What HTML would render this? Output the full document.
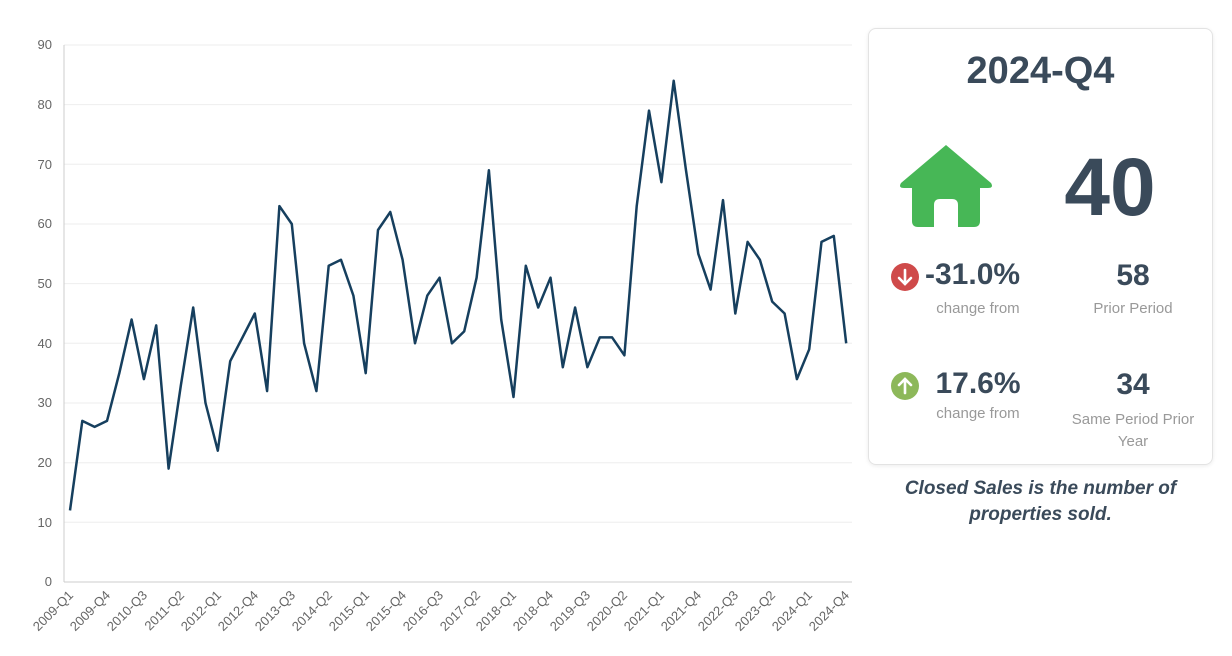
<!DOCTYPE html>
<html><head><meta charset="utf-8"><style>
body{margin:0;width:1232px;height:656px;background:#fff;font-family:"Liberation Sans",sans-serif;overflow:hidden;position:relative}
.panel{position:absolute;left:868px;top:28px;width:345px;height:437px;border:1px solid #e3e3e3;border-radius:8px;box-shadow:0 1px 4px rgba(0,0,0,.08);box-sizing:border-box}
.t{position:absolute;text-align:center;color:#3a4a5a;font-weight:bold}
.s{position:absolute;text-align:center;color:#999;font-size:15px}
</style></head><body>
<svg width="1232" height="656" style="position:absolute;left:0;top:0">
<g stroke="#eeeeee" stroke-width="1">
<line x1="64" x2="852" y1="522.3" y2="522.3"/><line x1="64" x2="852" y1="462.7" y2="462.7"/><line x1="64" x2="852" y1="403" y2="403"/><line x1="64" x2="852" y1="343.3" y2="343.3"/><line x1="64" x2="852" y1="283.6" y2="283.6"/><line x1="64" x2="852" y1="224" y2="224"/><line x1="64" x2="852" y1="164.3" y2="164.3"/><line x1="64" x2="852" y1="104.6" y2="104.6"/><line x1="64" x2="852" y1="45" y2="45"/>
</g>
<line x1="64" x2="852" y1="582" y2="582" stroke="#ccc"/>
<line x1="64" x2="64" y1="45" y2="582" stroke="#ccc"/>
<g font-size="13" fill="#666" text-anchor="end">
<text x="52" y="586">0</text><text x="52" y="527">10</text><text x="52" y="467">20</text><text x="52" y="407">30</text><text x="52" y="348">40</text><text x="52" y="288">50</text><text x="52" y="228">60</text><text x="52" y="169">70</text><text x="52" y="109">80</text><text x="52" y="49">90</text>
</g>
<g font-size="13" fill="#666" text-anchor="end">
<text transform="translate(74,596) rotate(-45)">2009-Q1</text>
<text transform="translate(111,596) rotate(-45)">2009-Q4</text>
<text transform="translate(148,596) rotate(-45)">2010-Q3</text>
<text transform="translate(185,596) rotate(-45)">2011-Q2</text>
<text transform="translate(222,596) rotate(-45)">2012-Q1</text>
<text transform="translate(259,596) rotate(-45)">2012-Q4</text>
<text transform="translate(296,596) rotate(-45)">2013-Q3</text>
<text transform="translate(333,596) rotate(-45)">2014-Q2</text>
<text transform="translate(370,596) rotate(-45)">2015-Q1</text>
<text transform="translate(407,596) rotate(-45)">2015-Q4</text>
<text transform="translate(444,596) rotate(-45)">2016-Q3</text>
<text transform="translate(481,596) rotate(-45)">2017-Q2</text>
<text transform="translate(517,596) rotate(-45)">2018-Q1</text>
<text transform="translate(554,596) rotate(-45)">2018-Q4</text>
<text transform="translate(591,596) rotate(-45)">2019-Q3</text>
<text transform="translate(628,596) rotate(-45)">2020-Q2</text>
<text transform="translate(665,596) rotate(-45)">2021-Q1</text>
<text transform="translate(702,596) rotate(-45)">2021-Q4</text>
<text transform="translate(739,596) rotate(-45)">2022-Q3</text>
<text transform="translate(776,596) rotate(-45)">2023-Q2</text>
<text transform="translate(813,596) rotate(-45)">2024-Q1</text>
<text transform="translate(850,596) rotate(-45)">2024-Q4</text>
</g>
<polyline fill="none" stroke="#163f5e" stroke-width="2.5" stroke-linejoin="round" points="70,510.4 82.3,420.9 94.6,426.9 107,420.9 119.3,373.2 131.6,319.5 143.9,379.1 156.2,325.4 168.6,468.6 180.9,385.1 193.2,307.5 205.5,403 217.8,450.7 230.2,361.2 242.5,337.4 254.8,313.5 267.1,391.1 279.4,206.1 291.8,224 304.1,343.3 316.4,391.1 328.7,265.7 341,259.8 353.4,295.6 365.7,373.2 378,230 390.3,212 402.6,259.8 415,343.3 427.3,295.6 439.6,277.7 451.9,343.3 464.2,331.4 476.6,277.7 488.9,170.3 501.2,319.5 513.5,397 525.8,265.7 538.2,307.5 550.5,277.7 562.8,367.2 575.1,307.5 587.4,367.2 599.8,337.4 612.1,337.4 624.4,355.3 636.7,206.1 649,110.6 661.4,182.2 673.7,80.8 686,170.3 698.3,253.8 710.6,289.6 723,200.1 735.3,313.5 747.6,241.9 759.9,259.8 772.2,301.6 784.6,313.5 796.9,379.1 809.2,349.3 821.5,241.9 833.8,235.9 846.2,343.3"/>
</svg>
<div class="panel"></div>
<div class="t" style="left:868px;width:345px;top:50px;font-size:38px">2024-Q4</div>
<svg style="position:absolute;left:898px;top:143px" width="96" height="84" viewBox="0 0 96 84">
<path d="M48 2 L93 40 Q96 45 90 45 L82 45 L82 78 Q82 84 76 84 L60 84 L60 62 Q60 56 54 56 L42 56 Q36 56 36 62 L36 84 L20 84 Q14 84 14 78 L14 45 L6 45 Q0 45 3 40 Z" fill="#47b756"/>
</svg>
<div class="t" style="left:1050px;width:120px;top:140px;font-size:82px;line-height:96px">40</div>
<svg style="position:absolute;left:890px;top:262px" width="30" height="30"><circle cx="15" cy="15" r="14" fill="#cf4a4a"/><path d="M15 8 V21 M9 16 L15 22 L21 16" stroke="#fff" stroke-width="2.6" fill="none" stroke-linecap="round"/></svg>
<div class="t" style="left:925px;width:110px;top:258px;font-size:30px;text-align:left">-31.0%</div>
<div class="s" style="left:918px;width:120px;top:300px">change from</div>
<div class="t" style="left:1073px;width:120px;top:259px;font-size:30px">58</div>
<div class="s" style="left:1073px;width:120px;top:300px">Prior Period</div>
<svg style="position:absolute;left:890px;top:371px" width="30" height="30"><circle cx="15" cy="15" r="14" fill="#8db85a"/><path d="M15 22 V9 M9 14 L15 8 L21 14" stroke="#fff" stroke-width="2.6" fill="none" stroke-linecap="round"/></svg>
<div class="t" style="left:918px;width:120px;top:367px;font-size:30px">17.6%</div>
<div class="s" style="left:918px;width:120px;top:405px">change from</div>
<div class="t" style="left:1073px;width:120px;top:368px;font-size:30px">34</div>
<div class="s" style="left:1058px;width:150px;top:409px;line-height:22px">Same Period Prior Year</div>
<div style="position:absolute;left:868px;width:345px;top:476px;text-align:center;font-size:19px;font-style:italic;font-weight:bold;color:#3a4a5a;line-height:26px">Closed Sales is the number of<br>properties sold.</div>
</body></html>
